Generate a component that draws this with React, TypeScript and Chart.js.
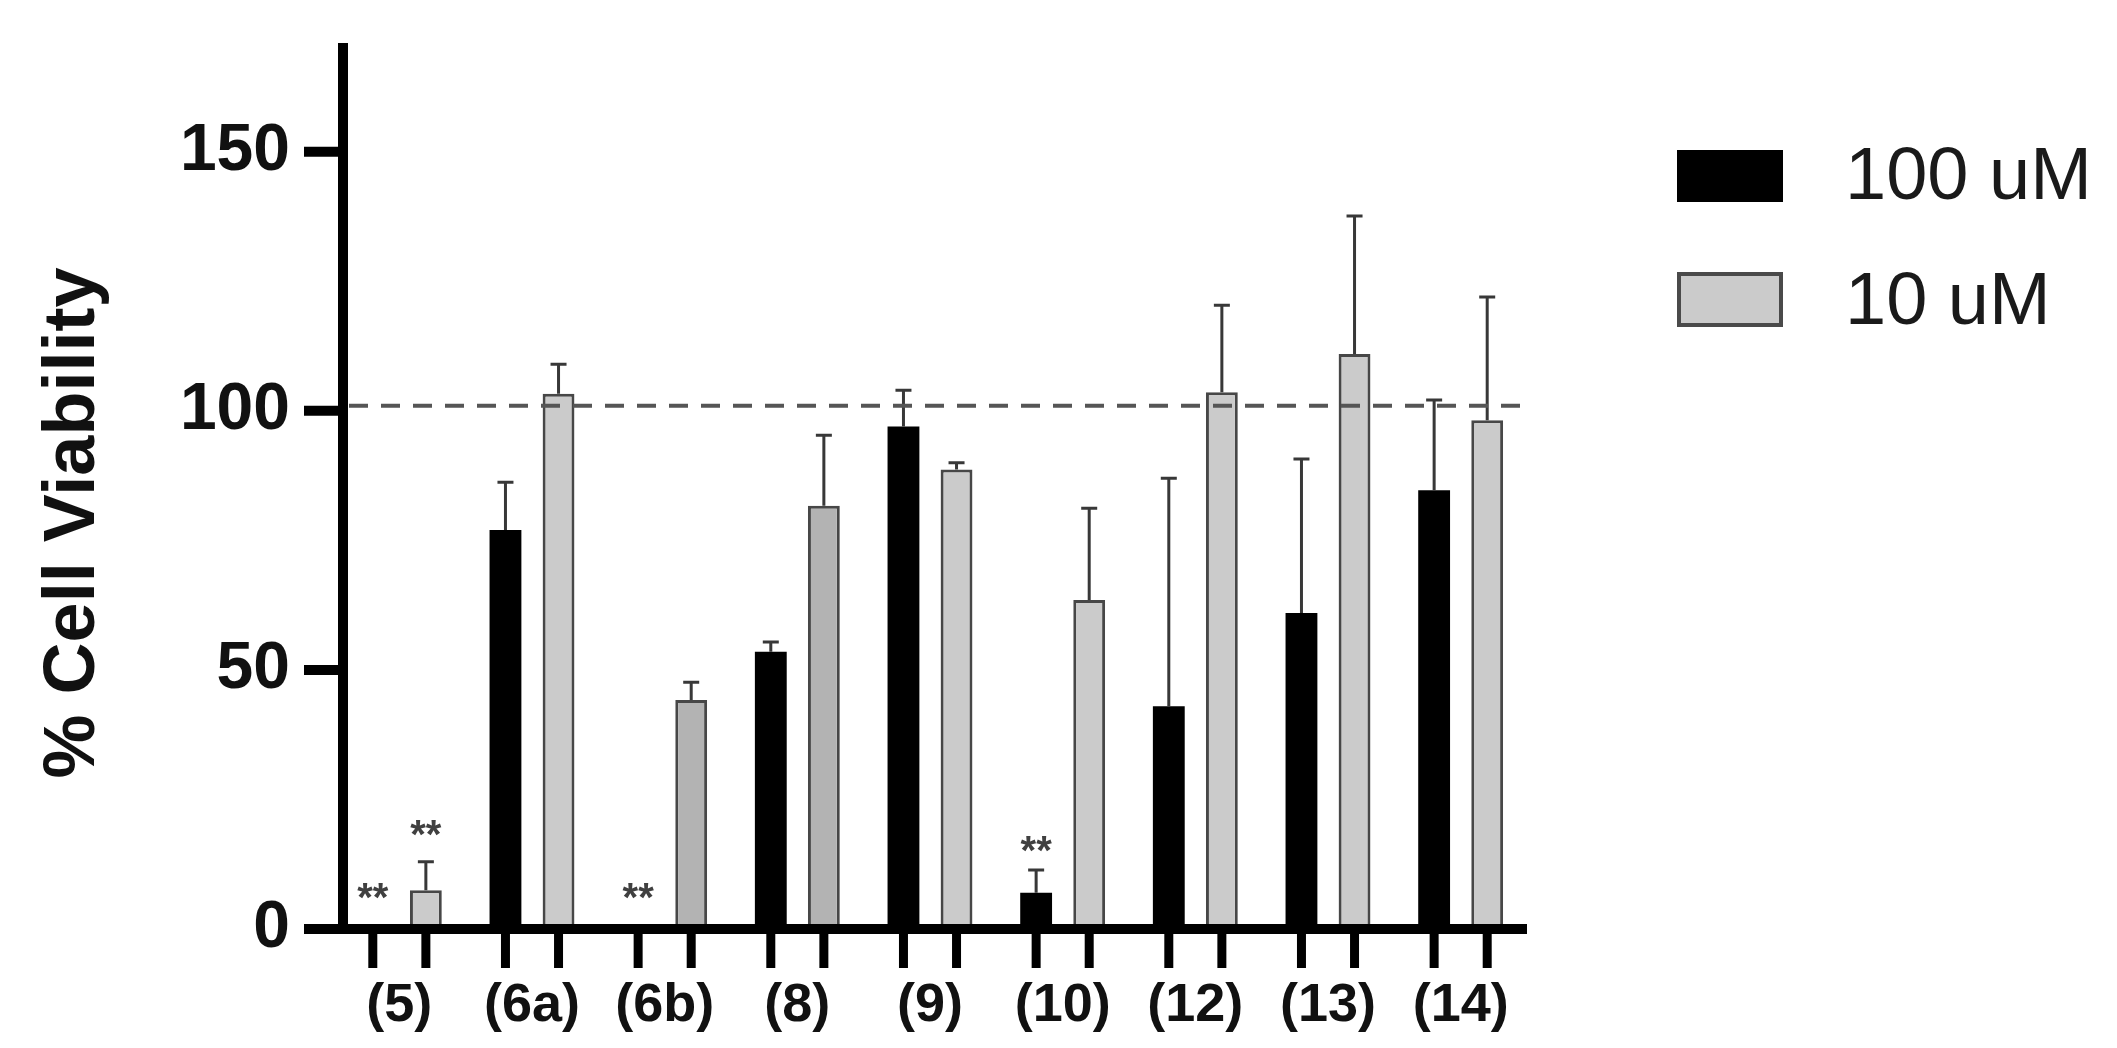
import React, { useEffect, useRef } from 'react';
import { Chart, registerables } from 'chart.js';

Chart.register(...registerables);

// ---------------- data ----------------
const categories = ['(5)', '(6a)', '(6b)', '(8)', '(9)', '(10)', '(12)', '(13)', '(14)'];
const seriesNames = ['100 uM', '10 uM'];
const values100 = [0, 77, 0, 53.5, 97, 7, 43, 61, 84.7];
const errors100 = [0, 9.2, 0, 1.9, 7, 4.4, 44, 29.7, 17.4];
const values10 = [7.5, 103.3, 44.2, 81.7, 88.7, 63.5, 103.6, 111, 98.2];
const errors10 = [5.5, 5.7, 3.4, 13.6, 1.3, 17.7, 16.8, 26.6, 23.8];
const yTicks = [0, 50, 100, 150];
const yMax = 171;
const referenceLevel = 101;
const sigCategory = [0, 0, 2, 5];
const sigSeries = [0, 1, 0, 0];
const sigLevel = [7.3, 19.5, 7.3, 16.4];
const sigText = '**';
const yTitle = '% Cell Viability';

// ---------------- styles / layout ----------------
const W = 2117;
const H = 1048;
const FONT = "'Liberation Sans', Arial, Helvetica, sans-serif";
const PLOT_LEFT = 333;
const PLOT_TOP = 43;
const PLOT_RIGHT = 1527;
const PLOT_BOTTOM = 929;
const AXIS_X = 343;
const grayLight = '#cbcbcb';
const grayDark = '#b3b3b3';
const grayFills = ['L', 'L', 'D', 'D', 'L', 'L', 'L', 'L', 'L'].map((k) => (k === 'D' ? grayDark : grayLight));

const decorPlugin = {
  id: 'decor',
  afterDatasetsDraw(chart: any) {
    const ctx: CanvasRenderingContext2D = chart.ctx;
    const yS = chart.scales.y;
    const area = chart.chartArea;
    const errs = [errors100, errors10];
    const vals = [values100, values10];

    ctx.save();
    // error bars
    ctx.strokeStyle = '#383838';
    ctx.lineWidth = 3;
    ctx.lineCap = 'butt';
    for (let d = 0; d < 2; d++) {
      const meta = chart.getDatasetMeta(d);
      meta.data.forEach((bar: any, i: number) => {
        const e = errs[d][i];
        if (!e) return;
        const x = bar.x;
        const y0 = yS.getPixelForValue(vals[d][i]);
        const y1 = yS.getPixelForValue(vals[d][i] + e);
        ctx.beginPath();
        ctx.moveTo(x, y0);
        ctx.lineTo(x, y1);
        ctx.moveTo(x - 8, y1);
        ctx.lineTo(x + 8, y1);
        ctx.stroke();
      });
    }

    // dashed reference line
    const yr = yS.getPixelForValue(referenceLevel);
    ctx.setLineDash([19, 13]);
    ctx.strokeStyle = '#555555';
    ctx.lineWidth = 4;
    ctx.beginPath();
    ctx.moveTo(AXIS_X + 6, yr);
    ctx.lineTo(area.right, yr);
    ctx.stroke();
    ctx.setLineDash([]);

    // axes
    ctx.strokeStyle = '#000';
    ctx.lineWidth = 10;
    ctx.beginPath();
    ctx.moveTo(AXIS_X, area.top);
    ctx.lineTo(AXIS_X, area.bottom + 5);
    ctx.stroke();
    ctx.beginPath();
    ctx.moveTo(AXIS_X, area.bottom);
    ctx.lineTo(area.right, area.bottom);
    ctx.stroke();
    // y ticks
    yTicks.forEach((v) => {
      const y = yS.getPixelForValue(v);
      ctx.beginPath();
      ctx.moveTo(304, y);
      ctx.lineTo(AXIS_X, y);
      ctx.stroke();
    });
    // x ticks at bar centres
    ctx.lineWidth = 9;
    for (let d = 0; d < 2; d++) {
      chart.getDatasetMeta(d).data.forEach((bar: any) => {
        ctx.beginPath();
        ctx.moveTo(bar.x, area.bottom);
        ctx.lineTo(bar.x, area.bottom + 39);
        ctx.stroke();
      });
    }

    // significance stars
    ctx.fillStyle = '#404040';
    ctx.font = `bold 40px ${FONT}`;
    ctx.textAlign = 'center';
    ctx.textBaseline = 'alphabetic';
    sigCategory.forEach((c, k) => {
      const bar = chart.getDatasetMeta(sigSeries[k]).data[c];
      const y = yS.getPixelForValue(sigLevel[k]);
      const m = ctx.measureText(sigText);
      const asc = m.actualBoundingBoxAscent;
      const desc = m.actualBoundingBoxDescent;
      ctx.fillText(sigText, bar.x, y + (asc - desc) / 2);
    });

    // y-axis title
    ctx.save();
    ctx.translate(74, 523);
    ctx.rotate(-Math.PI / 2);
    ctx.fillStyle = '#111';
    ctx.font = `bold 72px ${FONT}`;
    ctx.textAlign = 'center';
    ctx.textBaseline = 'middle';
    ctx.fillText(yTitle, 0, 0);
    ctx.restore();

    // legend
    ctx.fillStyle = '#000';
    ctx.fillRect(1677, 150, 106, 52);
    ctx.fillStyle = grayLight;
    ctx.fillRect(1677, 272, 106, 55);
    ctx.strokeStyle = '#4a4a4a';
    ctx.lineWidth = 4;
    ctx.strokeRect(1679, 274, 102, 51);
    ctx.fillStyle = '#1a1a1a';
    ctx.font = `74px ${FONT}`;
    ctx.textAlign = 'left';
    ctx.textBaseline = 'alphabetic';
    ctx.fillText(seriesNames[0], 1845, 199);
    ctx.fillText(seriesNames[1], 1845, 324);

    ctx.restore();
  },
};

export default function App() {
  const ref = useRef<HTMLCanvasElement>(null);

  useEffect(() => {
    document.body.style.margin = '0';
    document.body.style.overflow = 'hidden';
    const canvas = ref.current!;
    const chart = new Chart(canvas, {
      type: 'bar',
      data: {
        labels: categories,
        datasets: [
          {
            label: seriesNames[0],
            data: values100,
            backgroundColor: '#000000',
            borderColor: '#000000',
            borderWidth: 0,
            categoryPercentage: 0.8,
            barPercentage: 0.6,
          },
          {
            label: seriesNames[1],
            data: values10,
            backgroundColor: grayFills,
            borderColor: '#474747',
            borderWidth: 3,
            borderSkipped: false,
            categoryPercentage: 0.8,
            barPercentage: 0.6,
          },
        ],
      },
      options: {
        animation: false,
        responsive: false,
        maintainAspectRatio: false,
        devicePixelRatio: 1,
        layout: { padding: { left: 0, top: PLOT_TOP, right: W - PLOT_RIGHT, bottom: 0 } },
        plugins: {
          legend: { display: false },
          tooltip: { enabled: false },
          title: { display: false },
        },
        scales: {
          x: {
            type: 'category',
            offset: true,
            grid: { display: false, drawTicks: false },
            border: { display: false },
            ticks: {
              color: '#111',
              font: { family: FONT, size: 54, weight: 'bold' },
              padding: 45,
              maxRotation: 0,
              minRotation: 0,
              autoSkip: false,
            },
            afterFit: (s: any) => {
              s.height = H - PLOT_BOTTOM;
              s.paddingLeft = 0;
              s.paddingRight = 0;
            },
          },
          y: {
            type: 'linear',
            min: 0,
            max: yMax,
            grid: { display: false, drawTicks: false },
            border: { display: false },
            ticks: {
              color: '#111',
              font: { family: FONT, size: 66, weight: 'bold' },
              padding: 43,
              stepSize: 50,
              includeBounds: false,
            },
            afterBuildTicks: (s: any) => {
              s.ticks = yTicks.map((v) => ({ value: v }));
            },
            afterFit: (s: any) => {
              s.width = PLOT_LEFT;
              s.paddingTop = 0;
              s.paddingBottom = 0;
            },
          },
        },
      } as any,
      plugins: [decorPlugin],
    });
    return () => chart.destroy();
  }, []);

  return (
    <div style={{ width: W, height: H, overflow: 'hidden' }}>
      <canvas ref={ref} width={W} height={H} style={{ display: 'block' }} />
    </div>
  );
}
